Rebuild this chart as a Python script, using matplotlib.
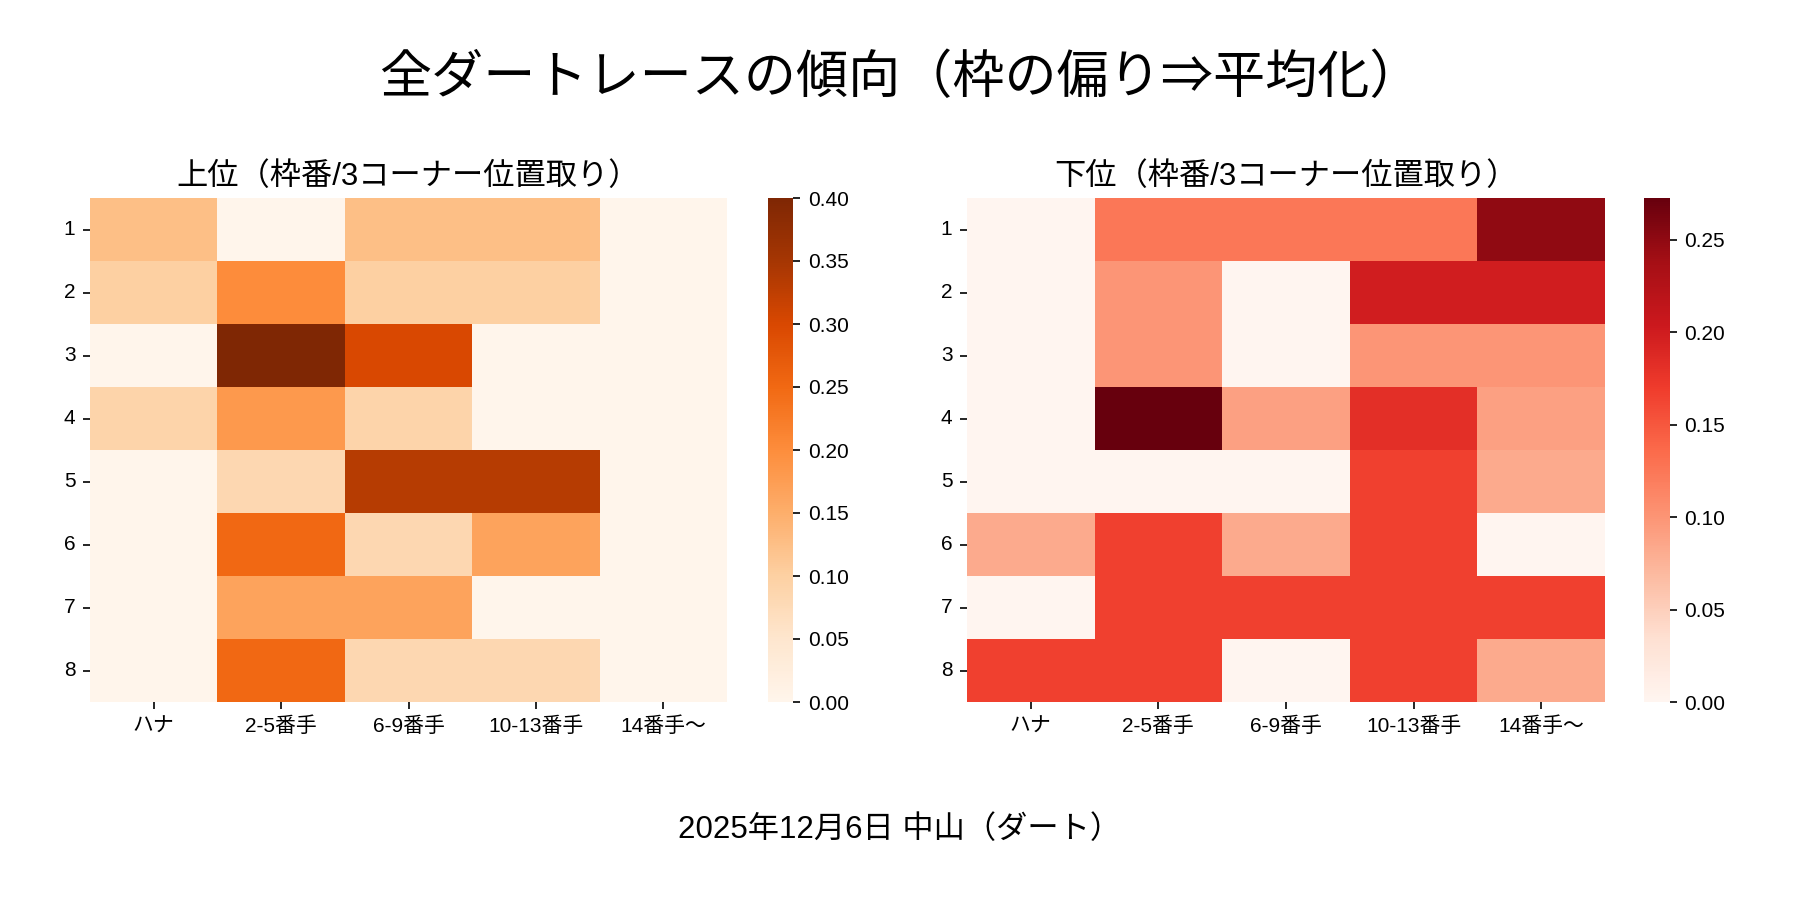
import numpy as np
import pandas as pd
import matplotlib
matplotlib.use("Agg")
import matplotlib.pyplot as plt
import seaborn as sns

# 英数字は Liberation Sans、日本語は Noto Sans CJK JP
plt.rcParams['font.family'] = ['Liberation Sans', 'Noto Sans CJK JP', 'DejaVu Sans']

# 枠番 と 3コーナー位置取り
waku = [1, 2, 3, 4, 5, 6, 7, 8]
positions = ["ハナ", "2-5番手", "6-9番手", "10-13番手", "14番手〜"]

# 上位（割合）
top_values = [
    [0.125, 0.0, 0.125, 0.125, 0.0],
    [0.1, 0.2, 0.1, 0.1, 0.0],
    [0.0, 0.4, 0.3, 0.0, 0.0],
    [0.091, 0.182, 0.091, 0.0, 0.0],
    [0.0, 0.083, 0.333, 0.333, 0.0],
    [0.0, 0.25, 0.083, 0.167, 0.0],
    [0.0, 0.167, 0.167, 0.0, 0.0],
    [0.0, 0.25, 0.083, 0.083, 0.0],
]

# 下位（割合）
bottom_values = [
    [0.0, 0.125, 0.125, 0.125, 0.25],
    [0.0, 0.1, 0.0, 0.2, 0.2],
    [0.0, 0.1, 0.0, 0.1, 0.1],
    [0.0, 0.2727, 0.0909, 0.1818, 0.0909],
    [0.0, 0.0, 0.0, 0.167, 0.083],
    [0.083, 0.167, 0.083, 0.167, 0.0],
    [0.0, 0.167, 0.167, 0.167, 0.167],
    [0.167, 0.167, 0.0, 0.167, 0.083],
]

df_top = pd.DataFrame(top_values, index=waku, columns=positions)
df_bottom = pd.DataFrame(bottom_values, index=waku, columns=positions)

fig = plt.figure(figsize=(12, 6), dpi=150)

# 軸の配置
ax1 = fig.add_axes([0.05, 0.22, 0.354, 0.56])
cax1 = fig.add_axes([0.4267, 0.22, 0.0139, 0.56])
ax2 = fig.add_axes([0.5372, 0.22, 0.3544, 0.56])
cax2 = fig.add_axes([0.9133, 0.22, 0.0144, 0.56])

sns.heatmap(df_top, cmap="Oranges", ax=ax1, cbar_ax=cax1)
ax1.set_title("上位（枠番/3コーナー位置取り）", fontsize=15)

sns.heatmap(df_bottom, cmap="Reds", ax=ax2, cbar_ax=cax2)
ax2.set_title("下位（枠番/3コーナー位置取り）", fontsize=15)

for ax in [ax1, ax2]:
    ax.tick_params(axis='y', rotation=0)
    ax.tick_params(axis='x', rotation=0)

fig.suptitle("全ダートレースの傾向（枠の偏り⇒平均化）", fontsize=25, y=0.912, va='center')
fig.text(0.5, 0.078, "2025年12月6日 中山（ダート）", ha='center', va='center', fontsize=15)

fig.savefig("out.png", dpi=150)
